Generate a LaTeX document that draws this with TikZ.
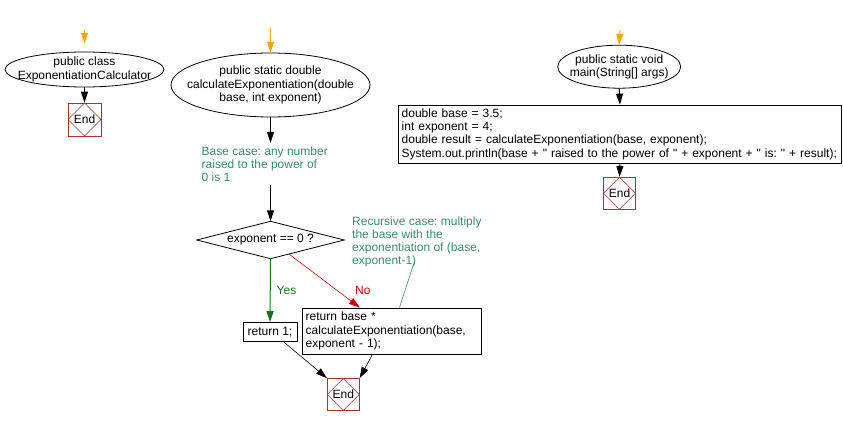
\documentclass[tikz,border=0pt]{standalone}
\usepackage{fontspec}
\setmainfont{Liberation Sans}[Ligatures=TeXOff]
\usetikzlibrary{shapes.geometric,arrows.meta,calc}
\definecolor{cmt}{HTML}{3C8C6E}
\definecolor{yesg}{HTML}{1A701A}
\definecolor{nor}{HTML}{CC0000}
\definecolor{endc}{HTML}{A83232}
\definecolor{orng}{HTML}{FFA500}
\frenchspacing
\tikzset{
  every node/.style={font=\fontsize{12}{13.3}\selectfont, inner sep=0pt},
  tip/.style={-{Triangle[width=7pt,length=11pt]}},
  flow/.style={tip, line width=1pt, black},
  startarr/.style={tip, line width=1pt, orng},
  startnode/.style={rectangle, align=center},
  stmt/.style={rectangle, draw, line width=0.8pt, align=left},
  endbox/.style={rectangle, draw=endc, line width=0.8pt, minimum width=32pt, minimum height=32pt,
    path picture={\draw[endc, line width=0.6pt] (path picture bounding box.north) -- (path picture bounding box.east) -- (path picture bounding box.south) -- (path picture bounding box.west) -- cycle;}},
  comment/.style={text=cmt, anchor=base west, align=left},
  oval/.style={line width=0.8pt},
}
\begin{document}
\begin{tikzpicture}[x=1pt,y=-1pt]
\useasboundingbox (0,0) rectangle (843,425);
% left
\node[startnode, minimum width=159pt, minimum height=35pt] (c1) at (84.5,69.5) {public class\\ExponentiationCalculator};
\draw[oval] (c1.center) ellipse [x radius=79.5pt, y radius=17.5pt];
\node[endbox, minimum width=33pt, minimum height=33pt] (e1) at (84.5,119.5) {End};
\coordinate (s1) at (84.5,30);
\draw[startarr, shorten >=8pt] (s1) -- (c1.north);
\draw[flow] (c1.south) -- (e1.north);
% middle
\node[startnode, minimum width=199pt, minimum height=64pt] (c2) at (270.5,85) {public static double\\calculateExponentiation(double\\base, int exponent)};
\draw[oval] (c2.center) ellipse [x radius=99.5pt, y radius=32pt];
\coordinate (s2) at (270.5,28);
\draw[startarr] (s2) -- (c2.north);
\node[comment] (cm1) at (201.5,181.6) {Base case: any number\\raised to the power of\\0 is 1};
\coordinate (k1) at (270.5,143);
\coordinate (k2) at (270.5,185);
\draw[flow] (c2.south) -- (k1);
\node[minimum width=147pt, minimum height=37pt] (d1) at (270.5,240) {exponent == 0 ?};
\draw[line width=0.8pt] (d1.north) -- (d1.east) -- (d1.south) -- (d1.west) -- cycle;
\draw[flow] (k2) -- (d1.north);
\node[stmt, minimum width=54pt, minimum height=19pt] (r1) at (270,332) {return 1;};
\node[stmt, minimum width=179pt, minimum height=46pt, inner xsep=3pt, text width=173pt] (r2) at (392.2,331) {return base *\\calculateExponentiation(base,\\exponent - 1);};
\draw[tip, line width=1pt, yesg] (d1.south) -- (r1.north);
\node[text=yesg, anchor=west] (yes) at (276.5,290) {Yes};
\draw[tip, line width=0.6pt, nor] ($(d1.south)!0.25!(d1.east)$) -- ($(r2.north west)!0.32!(r2.north east)$);
\node[text=nor, anchor=west] (no) at (355,290) {No};
\node[comment] (cm2) at (352,264.9) {Recursive case: multiply\\the base with the\\exponentiation of (base,\\exponent-1)};
\coordinate (cc) at (414,263);
\draw[cmt, line width=0.6pt] (cc) -- ($(r2.north west)!0.54!(r2.north east)$);
\node[endbox] (e2) at (343.3,394.5) {End};
\draw[tip, line width=0.6pt] ($(r1.south)!0.5!(r1.south east)$) -- (e2.north west);
\draw[tip, line width=0.6pt] ($(r2.south west)!0.39!(r2.south east)$) -- (e2.north east);
% right
\node[startnode, minimum width=123pt, minimum height=43pt] (c3) at (619.2,66.7) {public static void\\main(String[] args)};
\draw[oval] (c3.center) ellipse [x radius=61.5pt, y radius=21.5pt];
\coordinate (s3) at (620,30);
\draw[startarr] (s3) -- (c3.north);
\node[stmt, minimum width=443.4pt, minimum height=58.3pt, inner xsep=3.4pt, text width=436.6pt] (b3) at (620,134.2) {double base = 3.5;\\int exponent = 4;\\double result = calculateExponentiation(base, exponent);\\System.out.println(base + " raised to the power of " + exponent + " is: " + result);};
\node[endbox] (e3) at (619.5,193.3) {End};
\draw[flow] (c3.south) -- (b3.north);
\draw[flow] (b3.south) -- (e3.north);
\end{tikzpicture}
\end{document}
